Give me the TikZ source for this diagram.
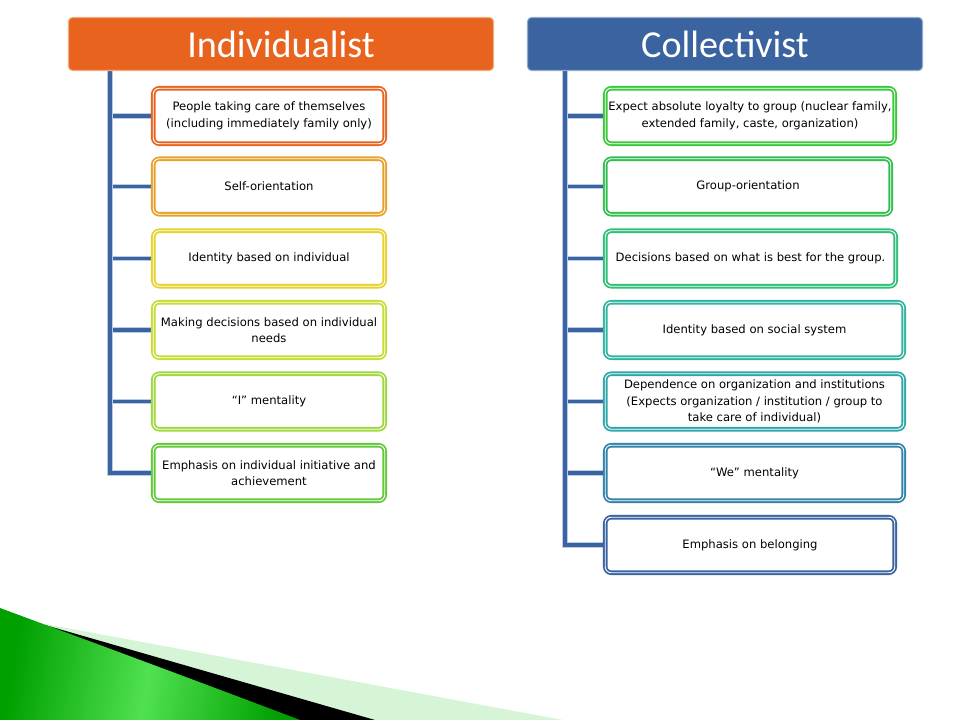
\documentclass[tikz,border=0pt]{standalone}
\usepackage{fontspec}
\setmainfont{DejaVu Sans}
\newfontfamily\hdrfont{Carlito}
\usetikzlibrary{backgrounds}
\definecolor{hOrange}{RGB}{232,100,30}
\definecolor{hBlue}{RGB}{58,99,160}
\definecolor{cA}{RGB}{232,100,30}
\definecolor{cB}{RGB}{232,160,40}
\definecolor{cC}{RGB}{230,210,40}
\definecolor{cD}{RGB}{200,220,50}
\definecolor{cE}{RGB}{160,215,60}
\definecolor{cF}{RGB}{100,200,60}
\definecolor{dA}{RGB}{60,200,60}
\definecolor{dB}{RGB}{50,190,80}
\definecolor{dC}{RGB}{48,190,120}
\definecolor{dD}{RGB}{48,180,160}
\definecolor{dE}{RGB}{48,165,170}
\definecolor{dF}{RGB}{50,130,170}
\definecolor{dG}{RGB}{58,99,160}
\definecolor{connBlue}{RGB}{58,99,160}
\definecolor{connLight}{RGB}{185,205,235}
\definecolor{swGreen}{RGB}{0,160,0}
\definecolor{swLight}{RGB}{80,225,80}
\definecolor{swPale}{RGB}{214,245,214}
\begin{document}
\begin{tikzpicture}[x=0.75pt,y=-0.75pt,
  hdr/.style={rectangle, rounded corners=3pt, fill=#1, draw=#1!55!white,
    line width=0.8pt, text=white, inner sep=0pt,
    font=\hdrfont\fontsize{28.6}{30}\selectfont, minimum height=53*0.75pt},
  item/.style 2 args={rectangle, rounded corners=4.5pt,
    preaction={fill=white, draw=#1, line width=3.4pt},
    draw=white, line width=0.7pt, align=center, inner sep=1pt,
    font=\fontsize{8.7}{12.4}\selectfont,
    minimum width=#2*0.75pt, minimum height=55.5*0.75pt},
  conn/.style={draw=connBlue, line width=2.8pt,
    preaction={draw=connLight, line width=4pt}}]
\useasboundingbox (0,0) rectangle (960,720);

% bottom swoosh
\fill[swPale] (45,624) -- (563,720) -- (0,720) -- cycle;
\fill[black] (45,625) -- (375,720) -- (0,720) -- cycle;
\shade[left color=swGreen, right color=swGreen, middle color=swLight, shading angle=80]
  (0,608) .. controls (100,645) and (200,682) .. (300,720) -- (0,720) -- cycle;

% headers
\node[hdr=hOrange, minimum width=425*0.75pt] (L) at (281,44) {Individualist};
\node[hdr=hBlue, minimum width=395*0.75pt] (R) at (725,44) {Collectivist};

% left items
\node[item={cA}{231.5}] (l1) at (269,116) {People taking care of themselves\\(including immediately family only)};
\node[item={cB}{231.5}] (l2) at (269,186.5) {Self-orientation};
\node[item={cC}{231.5}] (l3) at (269,258.5) {Identity based on individual};
\node[item={cD}{231.5}] (l4) at (269,330) {Making decisions based on individual\\needs};
\node[item={cE}{231.5}] (l5) at (269,401.5) {“I” mentality};
\node[item={cF}{231.5}] (l6) at (269,473) {Emphasis on individual initiative and\\achievement};

% right items
\node[item={dA}{289.5}] (r1) at (750,116) {Expect absolute loyalty to group (nuclear family,\\extended family, caste, organization)};
\node[item={dB}{285.5}] (r2) at (748,186.5) {Group-orientation};
\node[item={dC}{290.5}] (r3) at (750.5,258.5) {Decisions based on what is best for the group.};
\node[item={dD}{298.5}] (r4) at (754.5,330) {Identity based on social system};
\node[item={dE}{298.5}] (r5) at (754.5,401.5) {Dependence on organization and institutions\\(Expects organization / institution / group to\\take care of individual)};
\node[item={dF}{298.5}] (r6) at (754.5,473) {“We” mentality};
\node[item={dG}{289.5}] (r7) at (750,545) {Emphasis on belonging};

\coordinate (lx) at (110,71);
\coordinate (rx) at (565,71);
\begin{pgfonlayer}{background}
\foreach \n in {l1,l2,l3,l4,l5,l6}
  \draw[conn] (lx) |- (\n.west);
\foreach \n in {r1,r2,r3,r4,r5,r6,r7}
  \draw[conn] (rx) |- (\n.west);
\end{pgfonlayer}
\end{tikzpicture}
\end{document}
